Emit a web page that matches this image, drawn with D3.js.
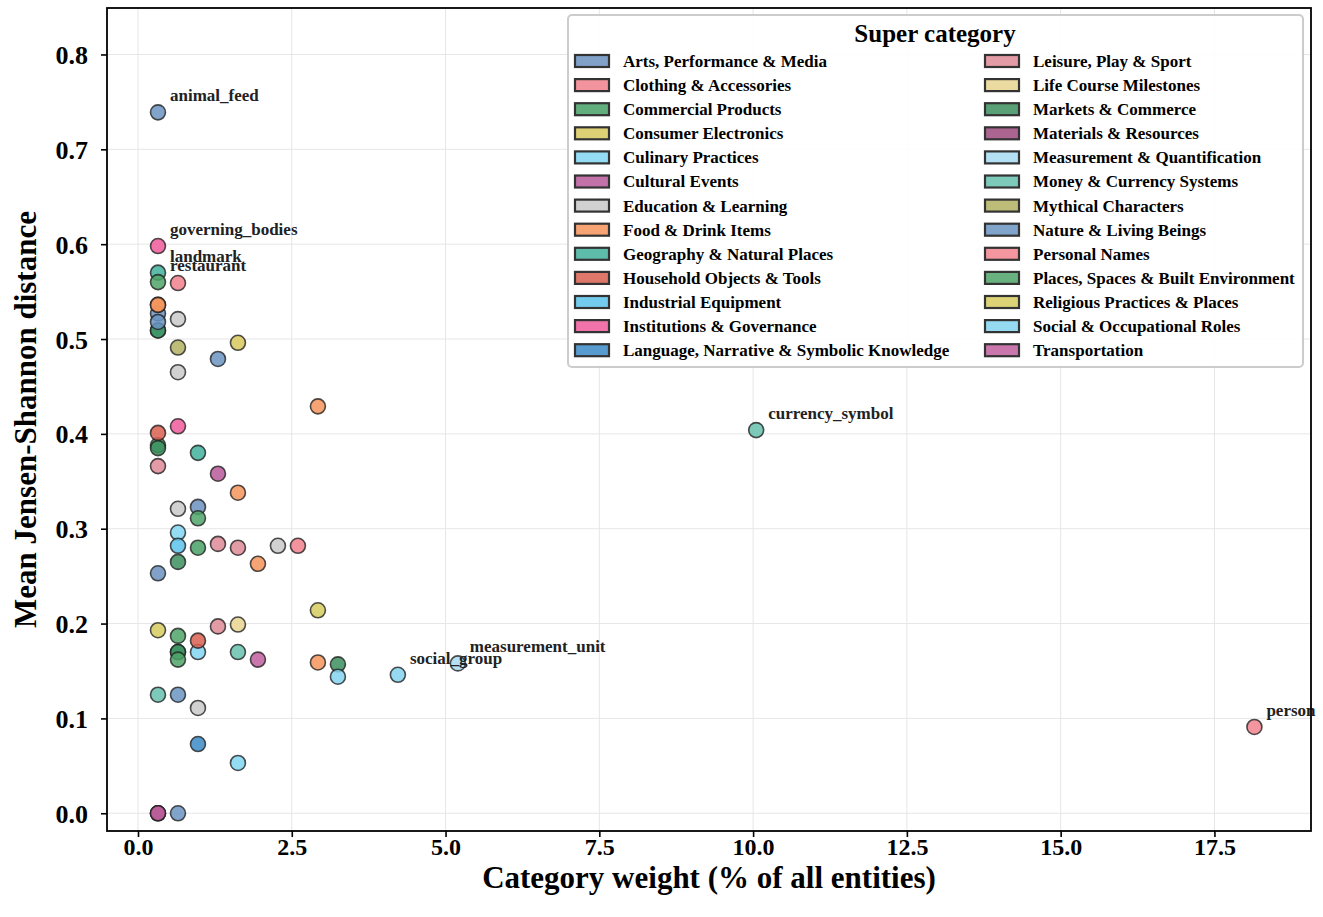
<!DOCTYPE html>
<meta charset="utf-8">
<style>
    body { margin: 0; background: #fff; }
    text { font-family: "Liberation Serif", "Times New Roman", serif; font-weight: bold; }
    .grid line { stroke: #e6e6e6; stroke-width: 1; }
    .axis path { stroke: #000; stroke-width: 1.6; }
    .axis line { stroke: #000; stroke-width: 1.6; }
    .axis text { fill: #000; }
</style>
<svg width="1323" height="917"></svg>
<script src="https://d3js.org/d3.v7.min.js"></script>
<script>
    // super categories and their colours
    var categories = [
        "Arts, Performance & Media", "Clothing & Accessories", "Commercial Products",
        "Consumer Electronics", "Culinary Practices", "Cultural Events",
        "Education & Learning", "Food & Drink Items", "Geography & Natural Places",
        "Household Objects & Tools", "Industrial Equipment", "Institutions & Governance",
        "Language, Narrative & Symbolic Knowledge", "Leisure, Play & Sport",
        "Life Course Milestones", "Markets & Commerce", "Materials & Resources",
        "Measurement & Quantification", "Money & Currency Systems", "Mythical Characters",
        "Nature & Living Beings", "Personal Names", "Places, Spaces & Built Environment",
        "Religious Practices & Places", "Social & Occupational Roles", "Transportation"
    ];
    var colors = [
        "#6b90c0", "#f0808c", "#46a066", "#d8c85c", "#80d6f2", "#b9599a",
        "#c9c9c9", "#f5945a", "#42b09c", "#d95f50", "#5ac2ea", "#f05a9a",
        "#3b8ac6", "#de8a96", "#e8d590", "#3c8f5e", "#9c4a7c", "#a8daf2",
        "#66c0ae", "#b2b062", "#6b94c2", "#f2848f", "#4fa468", "#d6ca5e",
        "#84d4f0", "#bf5f9e"
    ];

    // one entry per point
    var pointCategory = [
        20, 11, 8, 22, 7, 7, 0, 20, 8, 15, 9, 2, 15, 13, 0, 23, 18, 0, 16, 25,
        1, 6, 19, 6, 11, 6, 4, 10, 15, 22, 15, 2, 22, 20, 20,
        8, 0, 22, 2, 9, 4, 6, 12,
        20, 5, 13, 13,
        3, 7, 13, 14, 18, 4,
        7, 25,
        6, 1, 7, 23, 7, 15, 24, 24, 17, 18, 21
    ];
    var pointWeight = [
        0.325, 0.325, 0.325, 0.325, 0.325, 0.325, 0.325, 0.325, 0.325, 0.325,
        0.325, 0.325, 0.325, 0.325, 0.325, 0.325, 0.325, 0.325, 0.325, 0.325,
        0.65, 0.65, 0.65, 0.65, 0.65, 0.65, 0.65, 0.65, 0.65, 0.65, 0.65, 0.65, 0.65, 0.65, 0.65,
        0.975, 0.975, 0.975, 0.975, 0.975, 0.975, 0.975, 0.975,
        1.3, 1.3, 1.3, 1.3,
        1.625, 1.625, 1.625, 1.625, 1.625, 1.625,
        1.95, 1.95,
        2.275, 2.6, 2.925, 2.925, 2.925, 3.25, 3.25, 4.225, 5.2, 10.05, 18.15
    ];
    var pointJsd = [
        0.739, 0.598, 0.570, 0.560, 0.536, 0.536, 0.527, 0.518, 0.509, 0.509,
        0.401, 0.388, 0.385, 0.366, 0.253, 0.193, 0.125, 0.0, 0.0, 0.0,
        0.559, 0.521, 0.491, 0.465, 0.408, 0.321, 0.296, 0.282, 0.265, 0.187, 0.170, 0.170, 0.162, 0.125, 0.0,
        0.380, 0.323, 0.311, 0.280, 0.182, 0.170, 0.111, 0.073,
        0.479, 0.358, 0.284, 0.197,
        0.496, 0.338, 0.280, 0.199, 0.170, 0.053,
        0.263, 0.162,
        0.282, 0.282, 0.429, 0.214, 0.159, 0.157, 0.144, 0.146, 0.158, 0.404, 0.091
    ];
    var pointLabel = [
        "animal_feed", "governing_bodies", "landmark", "restaurant"
    ];
    pointLabel[62] = "social_group";
    pointLabel[63] = "measurement_unit";
    pointLabel[64] = "currency_symbol";
    pointLabel[65] = "person";

    var xTicks = [0, 2.5, 5, 7.5, 10, 12.5, 15, 17.5];
    var yTicks = [0, 0.1, 0.2, 0.3, 0.4, 0.5, 0.6, 0.7, 0.8];

    var svg = d3.select("svg"),
        margin = { top: 8, right: 12, bottom: 86, left: 107 },
        width = +svg.attr("width") - margin.left - margin.right,
        height = +svg.attr("height") - margin.top - margin.bottom,
        g = svg.append("g").attr("transform", "translate(" + margin.left + "," + margin.top + ")");

    var x = d3.scaleLinear().domain([-0.504, 19.07]).range([0, width]);
    var y = d3.scaleLinear().domain([-0.0187, 0.849]).range([height, 0]);
    var color = d3.scaleOrdinal().domain(categories).range(colors);

    // grid
    g.append("g").attr("class", "grid")
        .selectAll("line").data(xTicks).enter().append("line")
        .attr("x1", x).attr("x2", x).attr("y1", 0).attr("y2", height);
    g.append("g").attr("class", "grid")
        .selectAll("line").data(yTicks).enter().append("line")
        .attr("y1", y).attr("y2", y).attr("x1", 0).attr("x2", width);

    var data = pointWeight.map(function (w, i) {
        return { w: w, d: pointJsd[i], cat: categories[pointCategory[i]], label: pointLabel[i] || "", idx: pointCategory[i] };
    });
    // draw in legend order, like one scatter call per category
    var ordered = data.slice().sort(function (a, b) { return a.idx - b.idx; });

    g.append("g")
        .selectAll("circle")
        .data(ordered)
        .enter().append("circle")
        .attr("cx", function (d) { return x(d.w); })
        .attr("cy", function (d) { return y(d.d); })
        .attr("r", 7.5)
        .attr("fill", function (d) { return color(d.cat); })
        .attr("fill-opacity", 0.85)
        .attr("stroke", "#222")
        .attr("stroke-opacity", 0.8)
        .attr("stroke-width", 1.6);

    g.append("g")
        .selectAll("text")
        .data(data.filter(function (d) { return d.label; }))
        .enter().append("text")
        .attr("x", function (d) { return x(d.w) + 12; })
        .attr("y", function (d) { return y(d.d) - 11; })
        .attr("font-size", 17)
        .attr("fill", "#222")
        .text(function (d) { return d.label; });

    // axes
    var xAxis = g.append("g").attr("class", "axis")
        .attr("transform", "translate(0," + height + ")")
        .call(d3.axisBottom(x).tickValues(xTicks).tickFormat(d3.format(".1f"))
            .tickSize(6).tickPadding(1).tickSizeOuter(0));
    xAxis.selectAll("text").attr("font-size", 24);
    var yAxis = g.append("g").attr("class", "axis")
        .call(d3.axisLeft(y).tickValues(yTicks).tickFormat(d3.format(".1f")).tickSize(6).tickSizeOuter(0));
    yAxis.selectAll("text").attr("font-size", 26).attr("dx", -10).attr("dy", "0.35em");
    xAxis.select(".domain").remove();
    yAxis.select(".domain").remove();

    g.append("rect")
        .attr("width", width).attr("height", height)
        .attr("fill", "none").attr("stroke", "#000").attr("stroke-width", 1.8);

    svg.append("text")
        .attr("x", margin.left + width / 2)
        .attr("y", 888)
        .attr("text-anchor", "middle")
        .attr("font-size", 31)
        .text("Category weight (% of all entities)");

    svg.append("text")
        .attr("transform", "translate(36," + (margin.top + height / 2) + ")rotate(-90)")
        .attr("text-anchor", "middle")
        .attr("font-size", 31)
        .text("Mean Jensen-Shannon distance");

    // legend
    var legend = svg.append("g").attr("transform", "translate(568,15)");
    legend.append("rect")
        .attr("width", 735).attr("height", 352)
        .attr("rx", 4)
        .attr("fill", "#fff").attr("fill-opacity", 0.9)
        .attr("stroke", "#cccccc").attr("stroke-width", 2);
    legend.append("text")
        .attr("x", 367).attr("y", 27)
        .attr("text-anchor", "middle")
        .attr("font-size", 25)
        .text("Super category");

    var half = Math.ceil(categories.length / 2);
    var item = legend.selectAll("g.item")
        .data(categories)
        .enter().append("g")
        .attr("class", "item")
        .attr("transform", function (d, i) {
            var col = i < half ? 0 : 1, row = i % half;
            return "translate(" + (col ? 417 : 7) + "," + (46 + row * 24.1) + ")";
        });
    item.append("rect")
        .attr("width", 34).attr("height", 12).attr("y", -6)
        .attr("fill", color).attr("fill-opacity", 0.85)
        .attr("stroke", "#333").attr("stroke-width", 2.2);
    item.append("text")
        .attr("x", 48).attr("dy", "0.35em")
        .attr("font-size", 17)
        .text(function (d) { return d; });
</script>
